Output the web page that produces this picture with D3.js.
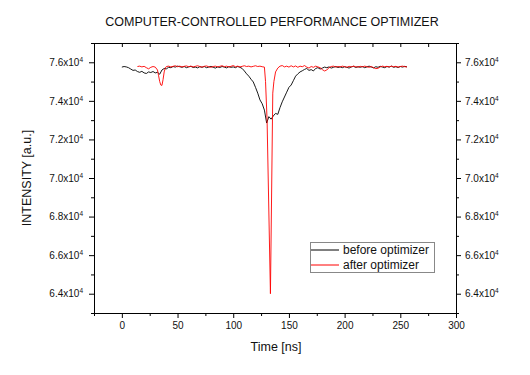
<!DOCTYPE html>
<html><head><meta charset="utf-8">
<script src="https://cdn.jsdelivr.net/npm/d3@7"></script>
<style>body{margin:0;background:#fff} text{font-family:"Liberation Sans",Arial,sans-serif}</style>
</head><body><svg id="c" width="530" height="375"></svg>
<script>
const title = "COMPUTER-CONTROLLED PERFORMANCE OPTIMIZER";
const xLabel = "Time [ns]";
const yLabel = "INTENSITY [a.u.]";
const seriesNames = ["before optimizer", "after optimizer"];
const seriesColors = ["#000000", "#ff0000"];
const xMajorTicks = [0, 50, 100, 150, 200, 250, 300];
const xMinorTicks = [-25, 25, 75, 125, 175, 225, 275];
const yMajorTicks = [64000, 66000, 68000, 70000, 72000, 74000, 76000];
const yMinorTicks = [63000, 65000, 67000, 69000, 71000, 73000, 75000, 77000];

const beforeTime = [0,2,4,6,8,10,12,14,16,18,20,22,24,26,28,30,32,34,36,38,40,42,44,46,48,50,52,54,56,58,60,62,64,66,68,70,72,74,76,78,80,82,84,86,88,90,92,94,96,98,100,102,104,106,108,110,112,114,116,118,120,122,124,126,128,130,132,134,136,138,140,142,144,146,148,150,152,154,156,158,160,162,164,166,168,170,172,174,176,178,180,182,184,186,188,190,192,194,196,198,200,202,204,206,208,210,212,214,216,218,220,222,224,226,228,230,232,234,236,238,240,242,244,246,248,250,252,254,256];
const beforeValue = [75750,75780,75760,75720,75650,75580,75600,75520,75480,75530,75450,75420,75500,75470,75520,75450,75480,75380,75600,75680,75660,75740,75720,75780,75750,75800,75770,75740,75780,75720,75760,75790,75730,75750,75710,75770,75740,75780,75720,75750,75790,75740,75700,75760,75730,75780,75750,75710,75770,75740,75760,75720,75780,75740,75680,75550,75400,75280,75120,74980,74700,74400,74050,73850,73520,72850,73180,73050,73220,73350,73300,73650,73950,74200,74450,74700,74820,75050,75280,75400,75500,75560,75630,75680,75580,75620,75550,75680,75720,75650,75700,75750,75720,75760,75700,75740,75780,75730,75760,75720,75770,75740,75700,75760,75790,75730,75770,75740,75780,75720,75760,75800,75750,75710,75770,75740,75790,75750,75720,75780,75750,75800,75740,75770,75730,75780,75750,75790,75760];

const afterTime = [14,16,18,20,22,24,26,28,30,32,33,34,35,36,37,38,39,40,42,44,46,48,50,52,54,56,58,60,62,64,66,68,70,72,74,76,78,80,82,84,86,88,90,92,94,96,98,100,102,104,106,108,110,112,114,116,118,120,122,124,126,128,129,130.4,133.4,135.5,136.5,138,140,142,144,146,148,150,152,154,156,158,160,162,164,166,168,170,172,174,176,178,180,182,184,186,188,190,192,194,196,198,200,202,204,206,208,210,212,214,216,218,220,222,224,226,228,230,232,234,236,238,240,242,244,246,248,250,252,254,256];
const afterValue = [75780,75800,75760,75790,75720,75660,75740,75780,75750,75600,75300,75000,74820,74800,75100,75500,75700,75780,75800,75760,75790,75820,75770,75800,75760,75790,75810,75770,75800,75760,75790,75820,75780,75750,75790,75810,75770,75740,75780,75800,75760,75790,75820,75770,75800,75760,75790,75830,75770,75800,75760,75790,75820,75780,75800,75760,75790,75820,75780,75800,75770,75750,75000,73000,64000,74400,75000,75500,75700,75800,75830,75760,75800,75750,75820,75760,75810,75740,75800,75770,75830,75750,75700,75780,75740,75800,75760,75720,75620,75550,75600,75720,75780,75800,75750,75780,75760,75800,75770,75740,75790,75760,75800,75770,75750,75790,75760,75800,75770,75740,75780,75720,75670,75690,75760,75800,75770,75790,75760,75800,75770,75790,75750,75780,75800,75770,75760];

const svg = d3.select("#c");
svg.append("rect").attr("width", 530).attr("height", 375).attr("fill", "#fff");

const L = 94, R = 456, T = 43, B = 313;
const x = d3.scaleLinear().domain([-25, 300]).range([L, R]);
const y = d3.scaleLinear().domain([63000, 77000]).range([B, T]);
const allX = xMajorTicks.concat(xMinorTicks);
const allY = yMajorTicks.concat(yMinorTicks);

function supLabel(sel) {
  sel.each(function(d) {
    const t = d3.select(this);
    t.text(null);
    t.append("tspan").text((d / 10000).toFixed(1) + "x10");
    t.append("tspan").attr("font-size", 6.5).attr("dy", -4).text("4");
  });
}
function styleAxis(g) {
  g.selectAll("path,line").attr("stroke", "#000").attr("stroke-width", 1);
  g.selectAll("text").attr("fill", "#111").attr("font-size", 10)
   .attr("font-family", "'Liberation Sans', Arial, sans-serif");
}

// bottom
svg.append("g").attr("transform", `translate(0,${B})`)
  .call(d3.axisBottom(x).tickValues(xMinorTicks).tickSize(3).tickSizeOuter(0).tickFormat(""))
  .call(styleAxis);
svg.append("g").attr("transform", `translate(0,${B})`)
  .call(d3.axisBottom(x).tickValues(xMajorTicks).tickSize(5).tickSizeOuter(0).tickPadding(4).tickFormat(d3.format("d")))
  .call(styleAxis);
// top (inward)
svg.append("g").attr("transform", `translate(0,${T})`)
  .call(d3.axisTop(x).tickValues(allX).tickSize(-4).tickSizeOuter(0).tickFormat(""))
  .call(styleAxis);
// left
svg.append("g").attr("transform", `translate(${L},0)`)
  .call(d3.axisLeft(y).tickValues(yMinorTicks).tickSize(3).tickSizeOuter(0).tickFormat(""))
  .call(styleAxis);
const gl = svg.append("g").attr("transform", `translate(${L},0)`)
  .call(d3.axisLeft(y).tickValues(yMajorTicks).tickSize(5).tickSizeOuter(0).tickPadding(6))
  .call(styleAxis);
gl.selectAll(".tick text").call(supLabel);
// right
svg.append("g").attr("transform", `translate(${R},0)`)
  .call(d3.axisRight(y).tickValues(yMinorTicks).tickSize(3).tickSizeOuter(0).tickFormat(""))
  .call(styleAxis);
const gr = svg.append("g").attr("transform", `translate(${R},0)`)
  .call(d3.axisRight(y).tickValues(yMajorTicks).tickSize(5).tickSizeOuter(0).tickPadding(4))
  .call(styleAxis);
gr.selectAll(".tick text").call(supLabel);

// lines
const line = d3.line().x(d => x(d[0])).y(d => y(d[1]));
const beforeData = beforeTime.map((t, i) => [t, beforeValue[i]]);
const afterData = afterTime.map((t, i) => [t, afterValue[i]]);
svg.append("path").datum(beforeData).attr("d", line).attr("fill", "none")
  .attr("stroke", seriesColors[0]).attr("stroke-width", 0.9);
svg.append("path").datum(afterData).attr("d", line).attr("fill", "none")
  .attr("stroke", seriesColors[1]).attr("stroke-width", 0.9);

// titles
svg.append("text").attr("x", 272).attr("y", 26).attr("text-anchor", "middle")
  .attr("font-size", 12.5).attr("fill", "#111").text(title);
svg.append("text").attr("x", 276).attr("y", 351).attr("text-anchor", "middle")
  .attr("font-size", 12.5).attr("fill", "#111").text(xLabel);
svg.append("text").attr("transform", "translate(31,178) rotate(-90)").attr("text-anchor", "middle")
  .attr("font-size", 12.5).attr("fill", "#111").text(yLabel);

// legend
const lg = svg.append("g");
lg.append("rect").attr("x", 310.5).attr("y", 242.5).attr("width", 124).attr("height", 30)
  .attr("fill", "#fff").attr("stroke", "#888").attr("stroke-width", 1);
seriesNames.forEach((n, i) => {
  const yy = 250 + i * 15;
  lg.append("line").attr("x1", 311).attr("x2", 339).attr("y1", yy).attr("y2", yy)
    .attr("stroke", seriesColors[i]).attr("stroke-width", 1);
  lg.append("text").attr("x", 343).attr("y", yy + 4).attr("font-size", 12)
    .attr("fill", "#111").text(n);
});
</script></body></html>
